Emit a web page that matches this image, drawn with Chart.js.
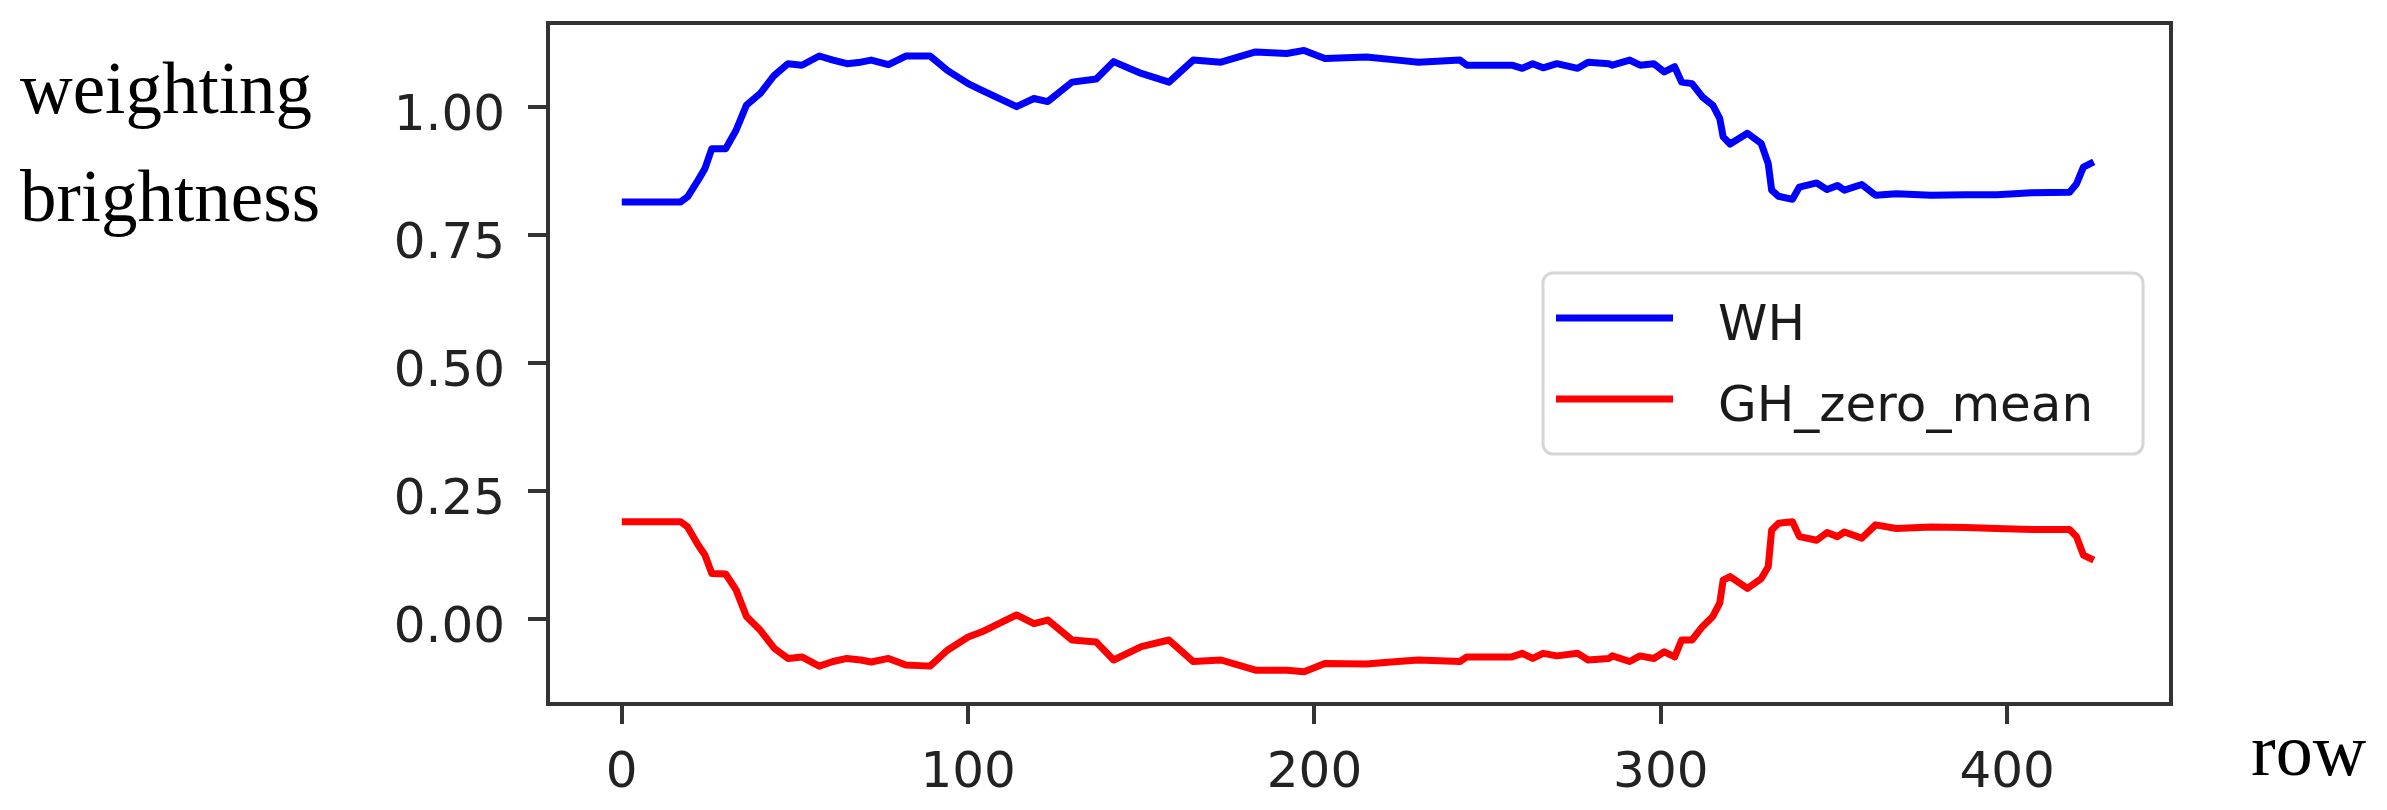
<!DOCTYPE html>
<html>
<head>
<meta charset="utf-8">
<script src="https://cdn.jsdelivr.net/npm/chart.js@4/dist/chart.umd.min.js"></script>
<style>
  html, body { margin: 0; padding: 0; background: #fff; }
  #wrap { position: relative; width: 2387px; height: 810px; }
  .lbl { position: absolute; font-family: "Liberation Serif", "DejaVu Serif", serif; color: #000; white-space: nowrap; }
</style>
</head>
<body>
<div id="wrap">
  <canvas id="chart"></canvas>
  <div class="lbl" style="left:20px; top:52px; font-size:73px; line-height:73px;">weighting</div>
  <div class="lbl" style="left:20px; top:160px; font-size:73px; line-height:73px;">brightness</div>
  <div class="lbl" style="left:2251px; top:713px; font-size:74px; line-height:74px;">row</div>
</div>
<script>
// row index of each reading
const rows = [0, 17, 19, 22, 24, 26, 30, 33, 36, 40, 44, 48, 52, 57, 61, 65, 69, 72, 77, 82, 89, 94, 100, 104,
  114, 119, 123, 130, 137, 142, 150, 158, 165, 173, 183, 192, 197, 203, 215, 224, 230, 242, 244, 257, 260, 263,
  266, 270, 276, 279, 285, 286, 291, 294, 298, 301, 304, 306, 309, 312, 315, 317, 318, 320, 325, 329, 331, 332,
  334, 338, 340, 345, 348, 351, 353, 358, 362, 368, 378, 388, 397, 407, 418, 420, 422, 425];

const whValues = [0.815, 0.815, 0.825, 0.857, 0.880, 0.919, 0.919, 0.955, 1.004, 1.027, 1.062, 1.085, 1.082, 1.100,
  1.092, 1.085, 1.088, 1.092, 1.083, 1.100, 1.100, 1.072, 1.046, 1.033, 1.001, 1.017, 1.011, 1.049, 1.055, 1.089,
  1.066, 1.049, 1.092, 1.088, 1.108, 1.105, 1.111, 1.095, 1.098, 1.092, 1.088, 1.092, 1.082, 1.082, 1.076, 1.085,
  1.077, 1.085, 1.076, 1.088, 1.085, 1.082, 1.092, 1.082, 1.085, 1.069, 1.079, 1.049, 1.046, 1.020, 1.004, 0.978,
  0.942, 0.928, 0.949, 0.929, 0.890, 0.838, 0.826, 0.820, 0.844, 0.852, 0.839, 0.847, 0.838, 0.849, 0.828, 0.831,
  0.828, 0.829, 0.829, 0.833, 0.834, 0.850, 0.883, 0.893];

const ghValues = [0.190, 0.190, 0.180, 0.145, 0.125, 0.089, 0.088, 0.057, 0.005, -0.022, -0.057, -0.077, -0.074,
  -0.092, -0.083, -0.077, -0.080, -0.084, -0.077, -0.090, -0.092, -0.061, -0.035, -0.025, 0.008, -0.009, -0.002,
  -0.041, -0.045, -0.080, -0.054, -0.041, -0.083, -0.080, -0.100, -0.100, -0.103, -0.087, -0.088, -0.083, -0.080,
  -0.083, -0.074, -0.074, -0.067, -0.077, -0.067, -0.072, -0.067, -0.080, -0.077, -0.072, -0.083, -0.072, -0.077,
  -0.064, -0.074, -0.041, -0.041, -0.015, 0.005, 0.031, 0.076, 0.083, 0.060, 0.079, 0.102, 0.174, 0.187, 0.190,
  0.161, 0.154, 0.169, 0.161, 0.170, 0.158, 0.184, 0.177, 0.180, 0.179, 0.177, 0.175, 0.175, 0.161, 0.125, 0.115];

const seriesLabels = ["WH", "GH_zero_mean"];
const xTicks = [0, 100, 200, 300, 400];
const yTicks = [0.00, 0.25, 0.50, 0.75, 1.00];
const xRange = [-21.3, 447.3];
const yRange = [-0.166, 1.1645];

const tickFont = {family: "DejaVu Sans", size: 50};

// matplotlib style frame + "center right" legend inside the axes
const frameLegend = {
  id: "frameLegend",
  afterDraw(chart) {
    const {ctx, chartArea: a} = chart;
    ctx.save();
    ctx.strokeStyle = "#333";
    ctx.lineWidth = 4;
    ctx.strokeRect(a.left, a.top, a.right - a.left, a.bottom - a.top);

    const bw = 600, bh = 181;
    const bx = a.right - 28 - bw, by = (a.top + a.bottom) / 2 - bh / 2;
    ctx.beginPath();
    ctx.roundRect(bx, by, bw, bh, 10);
    ctx.fillStyle = "rgba(255,255,255,0.8)";
    ctx.fill();
    ctx.strokeStyle = "#d6d6d6";
    ctx.lineWidth = 3;
    ctx.stroke();

    ctx.font = "50px 'DejaVu Sans'";
    ctx.textBaseline = "alphabetic";
    chart.data.datasets.forEach((ds, i) => {
      const ly = by + 45 + i * 81;
      ctx.beginPath();
      ctx.moveTo(bx + 13, ly);
      ctx.lineTo(bx + 130, ly);
      ctx.strokeStyle = ds.borderColor;
      ctx.lineWidth = 7;
      ctx.stroke();
      ctx.fillStyle = "#1a1a1a";
      ctx.fillText(ds.label, bx + 175, ly + 22);
    });
    ctx.restore();
  }
};

new Chart(document.getElementById("chart"), {
  type: "line",
  data: {
    datasets: [
      {label: seriesLabels[0], data: rows.map((r, i) => ({x: r, y: whValues[i]})),
       borderColor: "#0000ff", borderWidth: 7, pointRadius: 0, fill: false, tension: 0, borderJoinStyle: "round"},
      {label: seriesLabels[1], data: rows.map((r, i) => ({x: r, y: ghValues[i]})),
       borderColor: "#ff0000", borderWidth: 7, pointRadius: 0, fill: false, tension: 0, borderJoinStyle: "round"},
    ],
  },
  options: {
    responsive: true, maintainAspectRatio: false, animation: false,
    layout: {padding: {left: 0, right: 216, top: 23, bottom: 0}},
    plugins: {legend: {display: false}, tooltip: {enabled: false}},
    scales: {
      x: {
        type: "linear", min: xRange[0], max: xRange[1],
        afterBuildTicks: s => { s.ticks = xTicks.map(v => ({value: v})); },
        afterFit: s => { s.height = 106; s.paddingLeft = 0; s.paddingRight = 0; },
        border: {display: false},
        grid: {drawOnChartArea: false, drawTicks: true, tickLength: 20, color: "#333", lineWidth: 4},
        ticks: {font: tickFont, color: "#222", padding: 20, maxRotation: 0, callback: v => String(v)},
      },
      y: {
        type: "linear", min: yRange[0], max: yRange[1],
        afterBuildTicks: s => { s.ticks = yTicks.map(v => ({value: v})); },
        afterFit: s => { s.width = 548; s.paddingTop = 0; s.paddingBottom = 0; },
        border: {display: false},
        grid: {drawOnChartArea: false, drawTicks: true, tickLength: 20, color: "#333", lineWidth: 4},
        ticks: {font: tickFont, color: "#222", padding: 23, labelOffset: 10, callback: v => v.toFixed(2)},
      },
    },
  },
  plugins: [frameLegend],
});
</script>
</body>
</html>
